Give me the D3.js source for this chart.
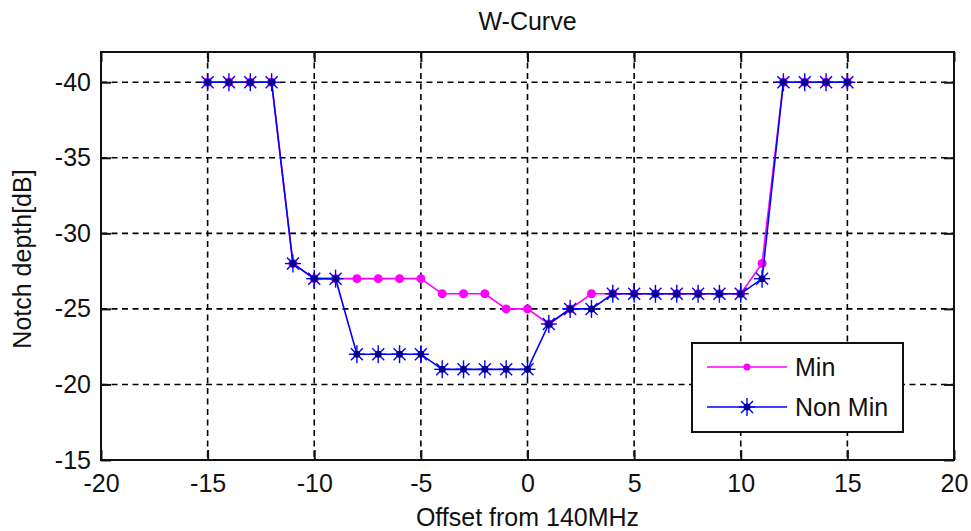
<!DOCTYPE html>
<html>
<head>
<meta charset="utf-8">
<script src="https://cdn.jsdelivr.net/npm/d3@7"></script>
<style>
  body { margin: 0; background: #fff; }
  svg text { font-family: "Liberation Sans", Arial, sans-serif; fill: #111; }
</style>
</head>
<body>
<div id="chart"></div>
<script>
'use strict';

// offsets (MHz) and notch depths (dB)
var offsets = [-15, -14, -13, -12, -11, -10, -9, -8, -7, -6, -5, -4, -3, -2, -1, 0,
               1, 2, 3, 4, 5, 6, 7, 8, 9, 10, 11, 12, 13, 14, 15];
var minDepth = [-40, -40, -40, -40, -28, -27, -27, -27, -27, -27, -27, -26, -26, -26, -25, -25,
                -24, -25, -26, -26, -26, -26, -26, -26, -26, -26, -28, -40, -40, -40, -40];
var nonMinDepth = [-40, -40, -40, -40, -28, -27, -27, -22, -22, -22, -22, -21, -21, -21, -21, -21,
                   -24, -25, -25, -26, -26, -26, -26, -26, -26, -26, -27, -40, -40, -40, -40];
var xTicks = [-20, -15, -10, -5, 0, 5, 10, 15, 20];
var yTicks = [-40, -35, -30, -25, -20, -15];
var seriesNames = ['Min', 'Non Min'];
var seriesColors = ['#ff00ff', '#0000ff'];

var W = 971, H = 531;
var margin = { left: 101, right: 17, top: 52, bottom: 71 };
var iw = W - margin.left - margin.right;
var ih = H - margin.top - margin.bottom;
var fontSize = '25px';

var svg = d3.select('#chart').append('svg')
    .attr('width', W)
    .attr('height', H);

var x = d3.scaleLinear().domain([-20, 20]).range([0, iw]);
var y = d3.scaleLinear().domain([-42, -15]).range([0, ih]);

var g = svg.append('g')
    .attr('transform', 'translate(' + margin.left + ',' + margin.top + ')');

g.append('rect')
    .attr('width', iw).attr('height', ih)
    .attr('fill', '#fff');

// dashed grid
g.selectAll('.vgrid')
    .data(xTicks.slice(1, -1))
    .enter().append('line')
    .attr('class', 'vgrid')
    .attr('x1', function (d) { return x(d); })
    .attr('x2', function (d) { return x(d); })
    .attr('y1', 0).attr('y2', ih)
    .attr('stroke', '#000').attr('stroke-width', 1.6)
    .attr('stroke-dasharray', '6,4.5');

g.selectAll('.hgrid')
    .data(yTicks.slice(0, -1))
    .enter().append('line')
    .attr('class', 'hgrid')
    .attr('x1', 0).attr('x2', iw)
    .attr('y1', function (d) { return y(d); })
    .attr('y2', function (d) { return y(d); })
    .attr('stroke', '#000').attr('stroke-width', 1.6)
    .attr('stroke-dasharray', '6,4.5');

// axes, ticks pointing inward on all four sides
var tickLen = 10;
var plain = function (d) { return String(d); };
var xb = d3.axisBottom(x).tickValues(xTicks).tickSize(-tickLen).tickPadding(14).tickFormat(plain);
var xt = d3.axisTop(x).tickValues(xTicks).tickSize(-tickLen).tickFormat('');
var yl = d3.axisLeft(y).tickValues(yTicks).tickSize(-tickLen).tickPadding(10).tickFormat(plain);
var yr = d3.axisRight(y).tickValues(yTicks).tickSize(-tickLen).tickFormat('');

function styleAxis(sel) {
    sel.select('.domain').remove();
    sel.selectAll('.tick line').attr('stroke', '#111').attr('stroke-width', 2);
    sel.selectAll('.tick text').style('font-size', fontSize).attr('fill', '#111');
}

g.append('g').attr('transform', 'translate(0,' + ih + ')').call(xb).call(styleAxis);
g.append('g').call(xt).call(styleAxis);
g.append('g').call(yl).call(styleAxis);
g.append('g').attr('transform', 'translate(' + iw + ',0)').call(yr).call(styleAxis);

g.append('rect')
    .attr('width', iw).attr('height', ih)
    .attr('fill', 'none').attr('stroke', '#111').attr('stroke-width', 2);

// series
var line = d3.line()
    .x(function (d) { return x(d[0]); })
    .y(function (d) { return y(d[1]); });

var minPts = offsets.map(function (o, i) { return [o, minDepth[i]]; });
var nonMinPts = offsets.map(function (o, i) { return [o, nonMinDepth[i]]; });

function star(sel, color) {
    var r = 8, rd = 6;
    sel.append('line').attr('x1', -r).attr('x2', r).attr('y1', 0).attr('y2', 0);
    sel.append('line').attr('x1', 0).attr('x2', 0).attr('y1', -r - 1).attr('y2', r + 1);
    sel.append('line').attr('x1', -rd).attr('x2', rd).attr('y1', -rd).attr('y2', rd);
    sel.append('line').attr('x1', -rd).attr('x2', rd).attr('y1', rd).attr('y2', -rd);
    sel.selectAll('line').attr('stroke', color).attr('stroke-width', 1.4);
    sel.append('circle').attr('r', 3.5).attr('fill', '#00008b');
}

g.append('path')
    .datum(minPts)
    .attr('fill', 'none')
    .attr('stroke', seriesColors[0])
    .attr('stroke-width', 1.6)
    .attr('d', line);

g.selectAll('.minDot')
    .data(minPts)
    .enter().append('circle')
    .attr('class', 'minDot')
    .attr('cx', function (d) { return x(d[0]); })
    .attr('cy', function (d) { return y(d[1]); })
    .attr('r', 4.5)
    .attr('fill', seriesColors[0]);

g.append('path')
    .datum(nonMinPts)
    .attr('fill', 'none')
    .attr('stroke', seriesColors[1])
    .attr('stroke-width', 1.6)
    .attr('d', line);

g.selectAll('.nonMinStar')
    .data(nonMinPts)
    .enter().append('g')
    .attr('class', 'nonMinStar')
    .attr('transform', function (d) { return 'translate(' + x(d[0]) + ',' + y(d[1]) + ')'; })
    .each(function () { star(d3.select(this), seriesColors[1]); });

// legend
var leg = svg.append('g').attr('transform', 'translate(692,343)');
leg.append('rect')
    .attr('width', 211).attr('height', 89)
    .attr('fill', '#fff').attr('stroke', '#111').attr('stroke-width', 2);

seriesNames.forEach(function (name, i) {
    var row = leg.append('g').attr('transform', 'translate(0,' + (24 + i * 40) + ')');
    row.append('line')
        .attr('x1', 15).attr('x2', 95).attr('y1', 0).attr('y2', 0)
        .attr('stroke', seriesColors[i]).attr('stroke-width', 1.6);
    if (i === 0) {
        row.append('circle').attr('cx', 55).attr('cy', 0).attr('r', 3.5).attr('fill', seriesColors[0]);
    } else {
        var s = row.append('g').attr('transform', 'translate(55,0)');
        star(s, seriesColors[1]);
    }
    row.append('text')
        .attr('x', 103).attr('y', 0).attr('dy', '0.35em')
        .style('font-size', fontSize)
        .text(name);
});

// titles
svg.append('text')
    .attr('x', margin.left + iw / 2).attr('y', 30)
    .attr('text-anchor', 'middle')
    .style('font-size', fontSize)
    .text('W-Curve');

svg.append('text')
    .attr('x', margin.left + iw / 2).attr('y', 526)
    .attr('text-anchor', 'middle')
    .style('font-size', fontSize)
    .text('Offset from 140MHz');

svg.append('text')
    .attr('transform', 'translate(31,' + (margin.top + ih / 2 + 3) + ') rotate(-90)')
    .attr('text-anchor', 'middle')
    .style('font-size', fontSize)
    .text('Notch depth[dB]');
</script>
</body>
</html>
